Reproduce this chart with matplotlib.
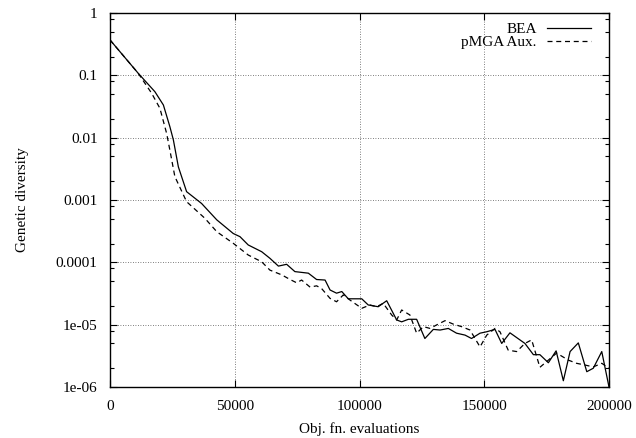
import matplotlib
matplotlib.use("Agg")
import matplotlib.pyplot as plt
from matplotlib.ticker import LogLocator, NullFormatter

plt.rcParams['font.family'] = ['Liberation Serif', 'DejaVu Serif']

# BEA curve
bea_x = [0, 11300, 18000, 21400, 24000, 25400, 27400, 30700, 36700, 42800,
         49400, 52100, 55400, 60800, 64100, 67500, 70800, 74100, 79500, 82800,
         86200, 88200, 90800, 92900, 95500, 100900, 103500, 107500, 110900, 114900,
         116900, 119600, 122900, 126200, 129600, 132300, 135600, 138900, 142300, 144900,
         148300, 151000, 154300, 157000, 160300, 166300, 169700, 172300, 175700, 178800,
         181700, 184400, 187700, 191100, 193700, 197100, 200000]
bea_y = [0.37, 0.108, 0.0546, 0.0334, 0.015, 0.0092, 0.0034, 0.00136, 0.00088, 0.00048,
         0.00029, 0.000258, 0.00019, 0.000148, 0.000116, 8.7e-5, 9.3e-5, 7.1e-5, 6.7e-5, 5.3e-5,
         5.2e-5, 3.6e-5, 3.2e-5, 3.4e-5, 2.6e-5, 2.6e-5, 2.07e-5, 1.94e-5, 2.42e-5, 1.19e-5,
         1.11e-5, 1.22e-5, 1.22e-5, 6.0e-6, 8.4e-6, 8.2e-6, 8.7e-6, 7.3e-6, 6.8e-6, 6.0e-6,
         7.3e-6, 7.7e-6, 8.4e-6, 5.0e-6, 7.4e-6, 5.0e-6, 3.3e-6, 3.3e-6, 2.45e-6, 3.8e-6,
         1.26e-6, 3.7e-6, 5.1e-6, 1.76e-6, 2.0e-6, 3.7e-6, 1.0e-6]

# pMGA Aux. curve
pmga_x = [0, 11300, 16700, 20000, 22700, 24000, 26000, 30700, 38000, 42800,
          49400, 55400, 60800, 64100, 68800, 72200, 74800, 76800, 80200, 82800,
          84800, 88200, 90800, 93500, 96200, 100900, 104200, 106900, 109500, 112900,
          114900, 116900, 120200, 122900, 125600, 128300, 130900, 134300, 137600, 140900,
          144300, 148300, 151000, 154300, 156300, 159600, 163000, 166300, 169000, 172300,
          175700, 179000, 183700, 187000, 190400, 193700, 197100, 200000]
pmga_y = [0.37, 0.108, 0.0515, 0.0296, 0.0117, 0.0063, 0.00237, 0.00094, 0.00051, 0.00031,
          0.000202, 0.000131, 0.000102, 7.5e-5, 6.3e-5, 5.3e-5, 4.7e-5, 5.2e-5, 4.0e-5, 4.2e-5,
          3.8e-5, 2.64e-5, 2.33e-5, 3.0e-5, 2.48e-5, 1.83e-5, 2.07e-5, 1.94e-5, 2.2e-5, 1.43e-5,
          1.19e-5, 1.72e-5, 1.43e-5, 7.3e-6, 9.3e-6, 8.7e-6, 9.9e-6, 1.16e-5, 1.02e-5, 9.3e-6,
          8.2e-6, 4.4e-6, 6.8e-6, 8.7e-6, 7.7e-6, 3.9e-6, 3.7e-6, 5.0e-6, 5.7e-6, 2.07e-6,
          2.7e-6, 3.5e-6, 2.7e-6, 2.4e-6, 2.25e-6, 2.1e-6, 2.4e-6, 2.0e-6]

x_ticks = [0, 50000, 100000, 150000, 200000]
x_labels = ["0", "50000", "100000", "150000", "200000"]
y_ticks = [1, 0.1, 0.01, 0.001, 0.0001, 1e-05, 1e-06]
y_labels = ["1", "0.1", "0.01", "0.001", "0.0001", "1e-05", "1e-06"]

fig = plt.figure(figsize=(6.36, 4.38), dpi=100)
ax = fig.add_axes([110 / 636, 1 - 387 / 438, 499 / 636, 374 / 438])

ax.plot(bea_x, bea_y, color="black", lw=0.9, label="BEA")
ax.plot(pmga_x, pmga_y, color="black", lw=0.9, ls=(0, (4, 3)), label="pMGA Aux.")

ax.set_yscale("log")
ax.set_xlim(0, 200000)
ax.set_ylim(1e-6, 1)

ax.set_xticks(x_ticks)
ax.set_xticklabels(x_labels)
ax.set_yticks(y_ticks)
ax.set_yticklabels(y_labels)
ax.yaxis.set_minor_locator(LogLocator(base=10, subs=(2, 5, 8)))
ax.yaxis.set_minor_formatter(NullFormatter())

ax.tick_params(which="both", direction="in", top=True, right=True, labelsize=11, color="black")
ax.tick_params(which="major", length=5, width=0.8, pad=9)
ax.tick_params(which="minor", length=3, width=0.8)
for s in ax.spines.values():
    s.set_linewidth(1.0)

ax.grid(which="major", color="#555555", ls=(0, (1, 2)), lw=0.6)
ax.set_axisbelow(True)

ax.set_xlabel("Obj. fn. evaluations", fontsize=11, labelpad=7)
ax.set_ylabel("Genetic diversity", fontsize=11, labelpad=19)

ax.legend(loc="upper right", bbox_to_anchor=(0.964, 0.974), frameon=False,
          markerfirst=False, fontsize=11, handlelength=2.9, handletextpad=0.65,
          labelspacing=-0.05, borderpad=0, borderaxespad=0)

fig.savefig("out.png", dpi=100)
